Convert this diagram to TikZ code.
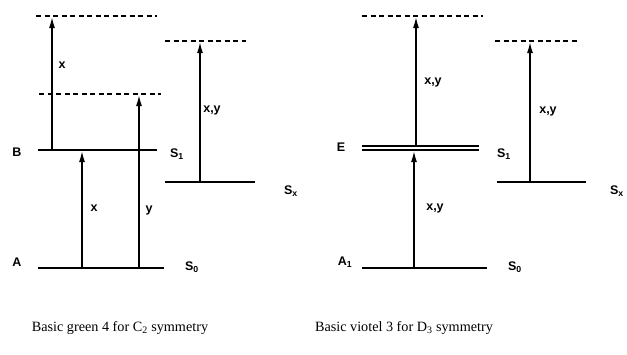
\documentclass[tikz,border=0pt]{standalone}
\usepackage{fontspec}
\setmainfont{Liberation Serif}
\newfontfamily\lblfont{Liberation Sans}
\usetikzlibrary{arrows.meta}
\begin{document}
\begin{tikzpicture}[x=1pt,y=-1pt,
  level/.style={line width=2.4pt},
  thinlevel/.style={line width=1.5pt},
  virt/.style={line width=1.5pt,dash pattern=on 5pt off 3.5pt},
  trans/.style={line width=1.5pt,-{Latex[length=11pt,width=6pt]}},
  lbl/.style={font=\lblfont\bfseries\fontsize{12.5}{14}\selectfont,inner sep=0pt},
  captext/.style={font=\fontsize{14.2}{16}\selectfont,inner sep=0pt}]
\useasboundingbox (0,0) rectangle (627,354);
% ---------- left diagram ----------
\coordinate (LtopL) at (36,16);   \coordinate (LtopR) at (157,16);
\coordinate (LmidL) at (39,94);   \coordinate (LmidR) at (161,94);
\coordinate (LBL) at (38,150);    \coordinate (LBR) at (157,150);
\coordinate (LAL) at (38,268);    \coordinate (LAR) at (164,268);
\coordinate (LSxtopL) at (165,41); \coordinate (LSxtopR) at (246,41);
\coordinate (LSxL) at (165,182);  \coordinate (LSxR) at (255,182);
\draw[virt] (LtopL) -- (LtopR);
\draw[virt] (LmidL) -- (LmidR);
\draw[virt] (LSxtopL) -- (LSxtopR);
\draw[level] (LBL) -- (LBR);
\draw[level] (LAL) -- (LAR);
\draw[level] (LSxL) -- (LSxR);
\coordinate (a1s) at (52,150);  \coordinate (a1e) at (52,17);
\coordinate (a2s) at (82,268);  \coordinate (a2e) at (82,151);
\coordinate (a3s) at (139,268); \coordinate (a3e) at (139,95);
\coordinate (a4s) at (200,182); \coordinate (a4e) at (200,42);
\draw[trans] (a1s) -- (a1e);
\draw[trans] (a2s) -- (a2e);
\draw[trans] (a3s) -- (a3e);
\draw[trans] (a4s) -- (a4e);
\node[lbl] (lx1) at (62,65) {x};
\node[lbl] (lx2) at (94,208) {x};
\node[lbl] (ly) at (149,210) {y};
\node[lbl] (lxy) at (212,110) {x,y};
\node[lbl] (lB) at (17,152) {B};
\node[lbl] (lA) at (17,262) {A};
\node[lbl] (lS1) at (177,154) {S\textsubscript{1}};
\node[lbl] (lS0) at (192,267) {S\textsubscript{0}};
\node[lbl] (lSx) at (291,191) {S\textsubscript{x}};
\node[captext] (lcap) at (120,328) {Basic green 4 for C\textsubscript{2} symmetry};
% ---------- right diagram ----------
\coordinate (RtopL) at (362,16);  \coordinate (RtopR) at (483,16);
\coordinate (REaL) at (362,146);  \coordinate (REaR) at (479,146);
\coordinate (REbL) at (362,150);  \coordinate (REbR) at (479,150);
\coordinate (RAL) at (362,268);   \coordinate (RAR) at (487,268);
\coordinate (RSxtopL) at (495,41); \coordinate (RSxtopR) at (577,41);
\coordinate (RSxL) at (497,182);  \coordinate (RSxR) at (586,182);
\draw[virt] (RtopL) -- (RtopR);
\draw[virt] (RSxtopL) -- (RSxtopR);
\draw[line width=1.4pt] (REaL) -- (REaR);
\draw[line width=1.4pt] (REbL) -- (REbR);
\draw[thinlevel] (RAL) -- (RAR);
\draw[level] (RSxL) -- (RSxR);
\coordinate (b1s) at (416,146); \coordinate (b1e) at (416,17);
\coordinate (b2s) at (414,268); \coordinate (b2e) at (414,151);
\coordinate (b3s) at (530,182); \coordinate (b3e) at (530,42);
\draw[trans] (b1s) -- (b1e);
\draw[trans] (b2s) -- (b2e);
\draw[trans] (b3s) -- (b3e);
\node[lbl] (rxy1) at (433,82) {x,y};
\node[lbl] (rxy2) at (435,208) {x,y};
\node[lbl] (rxy3) at (548,111) {x,y};
\node[lbl] (rE) at (341,147) {E};
\node[lbl] (rA) at (345,262) {A\textsubscript{1}};
\node[lbl] (rS1) at (504,154) {S\textsubscript{1}};
\node[lbl] (rS0) at (515,267) {S\textsubscript{0}};
\node[lbl] (rSx) at (617,191) {S\textsubscript{x}};
\node[captext] (rcap) at (404,328) {Basic viotel 3 for D\textsubscript{3} symmetry};
\end{tikzpicture}
\end{document}
